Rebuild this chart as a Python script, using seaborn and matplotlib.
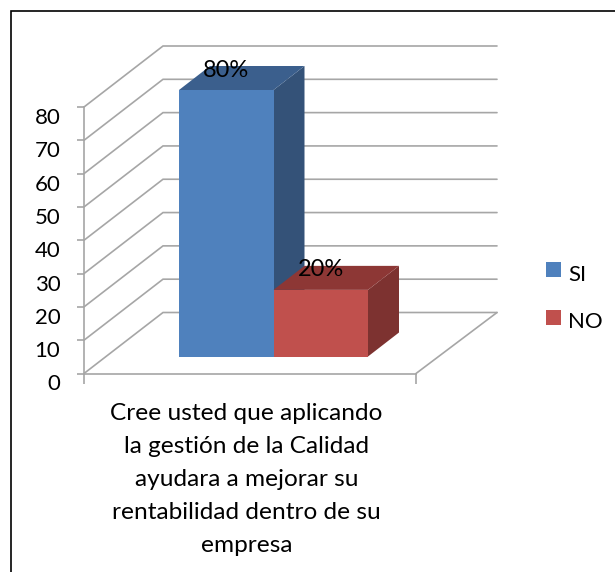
import matplotlib
matplotlib.use("Agg")
import matplotlib.pyplot as plt
import seaborn as sns
import pandas as pd
from matplotlib.lines import Line2D
from matplotlib.patches import Polygon, Rectangle
from matplotlib.transforms import Affine2D

series = ["SI", "NO"]
values = [80, 20]
labels = ["80%", "20%"]
colors = ["#4F81BD", "#C0504D"]
side_colors = ["#345278", "#7D3230"]
top_colors = ["#3B5F8D", "#8D3735"]
category = ("Cree usted que aplicando\nla gestión de la Calidad\nayudara a mejorar su\n"
            "rentabilidad dentro de su\nempresa")
y_ticks = list(range(0, 90, 10))

W, H = 615, 572
GRAY = "#A6A6A6"
sns.set_theme(style="white")
plt.rcParams["font.family"] = ["Lato", "DejaVu Sans"]
FS = 16
FS_CAT = 17.6
FS_DATA = 17

fig = plt.figure(figsize=(W / 100, H / 100), dpi=100, facecolor="white")


def px_axes(x0, x1, ytop, ybot):
    return fig.add_axes([x0 / W, 1 - ybot / H, (x1 - x0) / W, (ybot - ytop) / H])


# wall / floor axes (front plane)
ax = px_axes(84, 416, 107, 373.5)
ax.set_xlim(-0.5, 0.5)
ax.set_ylim(0, 80)
ax.patch.set_alpha(0)
sns.despine(ax=ax, top=True, right=True)
for s in ["left", "bottom"]:
    ax.spines[s].set_color(GRAY)
    ax.spines[s].set_linewidth(1.2)

wall_dx = 79 / 332
wall_dy = 61 / (266.5 / 80)
for v in y_ticks:
    ax.plot([-0.5, -0.5 + wall_dx, 0.5 + 81 / 332], [v, v + wall_dy, v + wall_dy],
            color=GRAY, lw=1.2, clip_on=False, solid_joinstyle="miter")
ax.plot([0.5 + 81 / 332, 0.5], [wall_dy, 0], color=GRAY, lw=1.2, clip_on=False)

ax.set_yticks(y_ticks)
ax.tick_params(axis="y", length=5, width=1.2, color=GRAY, left=True, pad=12,
               labelsize=FS, labelcolor="black")
for lab in ax.get_yticklabels():
    lab.set_transform(lab.get_transform() + Affine2D().translate(0, -9))
ax.set_xticks([-0.5, 0.5], ["", ""])
ax.tick_params(axis="x", which="major", length=7, width=1.2, color=GRAY, bottom=True)
ax.set_xticks([-0.01], [category], minor=True)
ax.tick_params(axis="x", which="minor", length=0, pad=21.5, labelsize=FS_CAT, labelcolor="black")
for lab in ax.get_xticklabels(minor=True):
    lab.set_linespacing(1.7)
    lab.set_horizontalalignment("center")

# bar plane axes, shifted into the depth of the chart
bx = px_axes(84 + 23.5, 416 + 23.5, 107 - 17, 373.5 - 17)
df = pd.DataFrame({"c": ["q", "q"], "serie": series, "valor": values})
sns.barplot(data=df, x="c", y="valor", hue="serie", hue_order=series, palette=colors,
            width=189 / 332, gap=0, saturation=1, legend=False, ax=bx, edgecolor="none")
bx.set_xlim(-0.5, 0.5)
bx.set_ylim(0, 80)
bx.axis("off")

dx = 31 / 332
dy = 24 / (266.5 / 80)
bars = [p for c in bx.containers for p in c]
for i, (bar, lab) in enumerate(zip(bars, labels)):
    x0, x1 = bar.get_x(), bar.get_x() + bar.get_width()
    h = bar.get_height()
    bar.set_zorder(3 + 2 * i)
    bx.add_patch(Polygon([(x1, 0), (x1 + dx, dy), (x1 + dx, h + dy), (x1, h)],
                         facecolor=side_colors[i], edgecolor="none", clip_on=False, zorder=2 + 2 * i))
    bx.add_patch(Polygon([(x0, h), (x0 + dx, h + dy), (x1 + dx, h + dy), (x1, h)],
                         facecolor=top_colors[i], edgecolor="none", clip_on=False, zorder=2 + 2 * i))
    bx.text((x0 + x1) / 2, h + 6, lab, ha="center", va="center", fontsize=FS_DATA, color="black",
            clip_on=False, zorder=9)

# legend
fig.add_artist(Rectangle((546 / W, 1 - 277 / H), 15 / W, 15 / H, transform=fig.transFigure,
                         facecolor=colors[0], edgecolor="none"))
fig.add_artist(Rectangle((546 / W, 1 - 325 / H), 15 / W, 15 / H, transform=fig.transFigure,
                         facecolor=colors[1], edgecolor="none"))
fig.text(568 / W, 1 - 275 / H, series[0], fontsize=FS, va="center", ha="left", color="black")
fig.text(568 / W, 1 - 322 / H, series[1], fontsize=FS, va="center", ha="left", color="black")

# outer frame: only the top and left edges fall inside the picture
fig.add_artist(Line2D([10.5 / W, 10.5 / W, 1], [0, 1 - 10.5 / H, 1 - 10.5 / H],
                      transform=fig.transFigure, color="black", lw=1.2,
                      solid_joinstyle="miter"))

fig.savefig("out.png", dpi=100)
